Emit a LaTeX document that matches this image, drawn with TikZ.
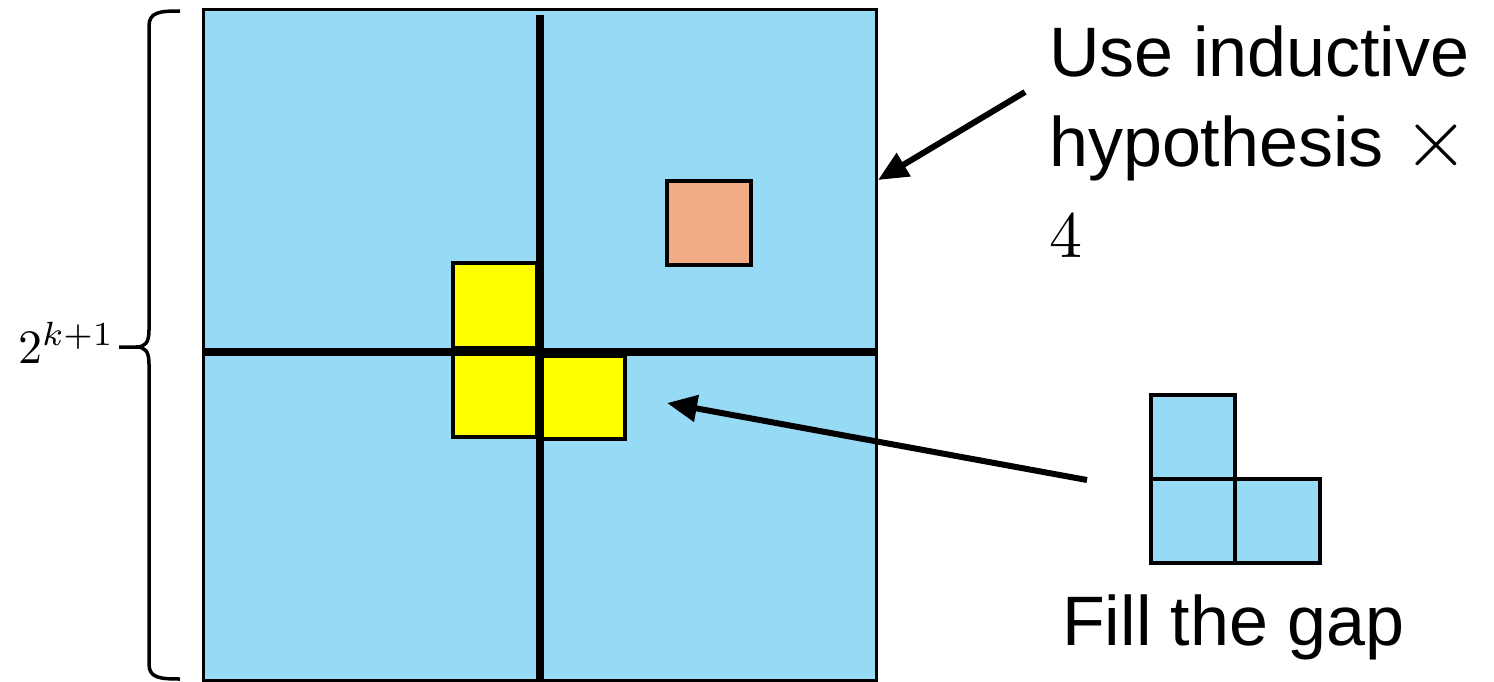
\documentclass[tikz,border=0pt]{standalone}
\usepackage{graphicx}
\usepackage{fontspec}
\setmainfont{Liberation Sans}
\usetikzlibrary{arrows.meta}
\definecolor{tileblue}{RGB}{150,218,246}
\definecolor{tileyellow}{RGB}{255,255,0}
\definecolor{tileorange}{RGB}{241,172,133}
\tikzset{
  board/.style={fill=tileblue, draw=black, line width=3pt},
  ytile/.style={fill=tileyellow, draw=black, line width=3.5pt},
  otile/.style={fill=tileorange, draw=black, line width=3.5pt},
  btile/.style={fill=tileblue, draw=black, line width=3.5pt},
  divider/.style={draw=black, line width=8pt},
  pointer/.style={draw=black, line width=6pt, -{Triangle[length=30pt,width=26pt]}},
  bigtext/.style={inner sep=0pt, font=\fontsize{70}{90}\selectfont},
}
\begin{document}
\begin{tikzpicture}[x=1pt,y=-1pt]
\useasboundingbox (0,0) rectangle (1494,682);
% board
\path[board] (203,10) rectangle (876,680);
% yellow tiles
\path[ytile] (453,263) rectangle (537,348);
\path[ytile] (453,353) rectangle (537,437);
\path[ytile] (542,356) rectangle (625,439);
% dividers
\draw[divider] (540,15) -- (540,682);
\draw[divider] (203,352) -- (876,352);
% orange tile
\path[otile] (667,181) rectangle (751,265);
% L tromino
\path[btile] (1151,395) rectangle (1235,479);
\path[btile] (1151,479) rectangle (1235,563);
\path[btile] (1235,479) rectangle (1320,563);
% brace
\draw[line width=3.5pt] (180,11) .. controls (160,11) and (149,12) .. (149,26) -- (149,330)
  .. controls (149,343) and (145,347) .. (136,347) -- (119,347);
\draw[line width=3.5pt] (136,347) .. controls (145,347) and (149,351) .. (149,364) -- (149,664)
  .. controls (149,678) and (160,679) .. (180,679);
\node[inner sep=0pt, anchor=base west] (size) at (18,363) {\scalebox{4.8}{$2^{k+1}$}};
% texts
\node[bigtext, anchor=base west] (t1) at (1049,77) {Use inductive};
\node[bigtext, anchor=base west] (t2) at (1049,167) {hypothesis \scalebox{3.4}{$\times$}};
\node[inner sep=0pt, anchor=base west] (t3) at (1049,257) {\scalebox{6.6}{$4$}};
\node[bigtext, anchor=base west] (t4) at (1062,645) {Fill the gap};
% arrows
\coordinate (a1s) at (1025,92);
\coordinate (a1e) at (878,180);
\coordinate (a2s) at (1087,480);
\coordinate (a2e) at (667,403);
\draw[pointer] (a1s) -- (a1e);
\draw[pointer] (a2s) -- (a2e);
\end{tikzpicture}
\end{document}
